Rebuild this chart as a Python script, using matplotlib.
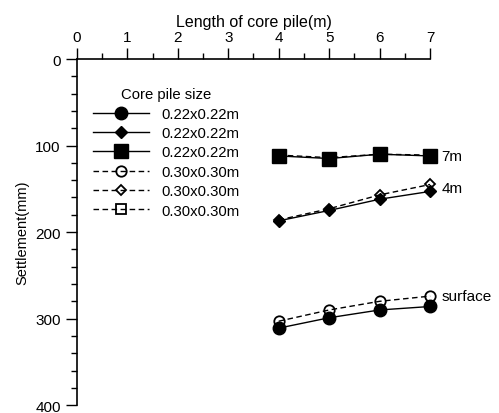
import matplotlib.pyplot as plt
from matplotlib.ticker import MultipleLocator

plt.rcParams['font.family'] = ['Liberation Sans', 'DejaVu Sans']

length = [4, 5, 6, 7]

surf_22 = [311, 299, 290, 286]
m4_22 = [187, 175, 162, 153]
m7_22 = [112, 115, 110, 112]
surf_30 = [303, 290, 280, 274]
m4_30 = [186, 173, 157, 145]
m7_30 = [111, 114, 110, 111]

labels = ['0.22x0.22m', '0.22x0.22m', '0.22x0.22m',
          '0.30x0.30m', '0.30x0.30m', '0.30x0.30m']

fig = plt.figure(figsize=(4.99, 4.14), dpi=100)
ax = fig.add_axes([0.154, 0.019, 0.708, 0.836])

dash = (4, 2.5)
ax.plot(length, surf_22, 'k-', marker='o', ms=9, lw=1.0, label=labels[0])
ax.plot(length, m4_22, 'k-', marker='D', ms=6.5, lw=1.0, label=labels[1])
ax.plot(length, m7_22, 'k-', marker='s', ms=9.5, lw=1.0, label=labels[2])
ax.plot(length, surf_30, 'k--', dashes=dash, marker='o', ms=7.5, mfc='none', mew=1.3, lw=1.0, label=labels[3])
ax.plot(length, m4_30, 'k--', dashes=dash, marker='D', ms=5.5, mfc='none', mew=1.3, lw=1.0, label=labels[4])
ax.plot(length, m7_30, 'k--', dashes=dash, marker='s', ms=6.5, mfc='none', mew=1.3, lw=1.0, label=labels[5])

ax.text(7.22, m7_22[-1], '7m', va='center', fontsize=11)
ax.text(7.22, (m4_22[-1] + m4_30[-1]) / 2, '4m', va='center', fontsize=11)
ax.text(7.22, surf_30[-1], 'surface', va='center', fontsize=11)

ax.set_xlim(0, 7)
ax.set_ylim(400, 0)
ax.xaxis.tick_top()
ax.xaxis.set_label_position('top')
ax.set_xlabel('Length of core pile(m)', fontsize=11.5, labelpad=3)
ax.set_ylabel('Settlement(mm)', fontsize=10.5, labelpad=4)
ax.xaxis.set_major_locator(MultipleLocator(1))
ax.xaxis.set_minor_locator(MultipleLocator(0.5))
ax.yaxis.set_major_locator(MultipleLocator(100))
ax.yaxis.set_minor_locator(MultipleLocator(20))
ax.tick_params(which='major', direction='out', length=8, width=1, labelsize=11)
ax.tick_params(axis='x', which='major', pad=2.5)
ax.tick_params(which='minor', direction='out', length=4, width=1)
for s in ['right', 'bottom']:
    ax.spines[s].set_visible(False)
for s in ['left', 'top']:
    ax.spines[s].set_linewidth(1.2)
for ln in ax.lines:
    ln.set_clip_on(False)

leg = ax.legend(title='Core pile size', loc='upper left', bbox_to_anchor=(0.045, 0.918),
                frameon=False, fontsize=10.7, title_fontsize=10.7, handlelength=3.8,
                labelspacing=0.36, borderpad=0, borderaxespad=0)

fig.savefig('out.png')
